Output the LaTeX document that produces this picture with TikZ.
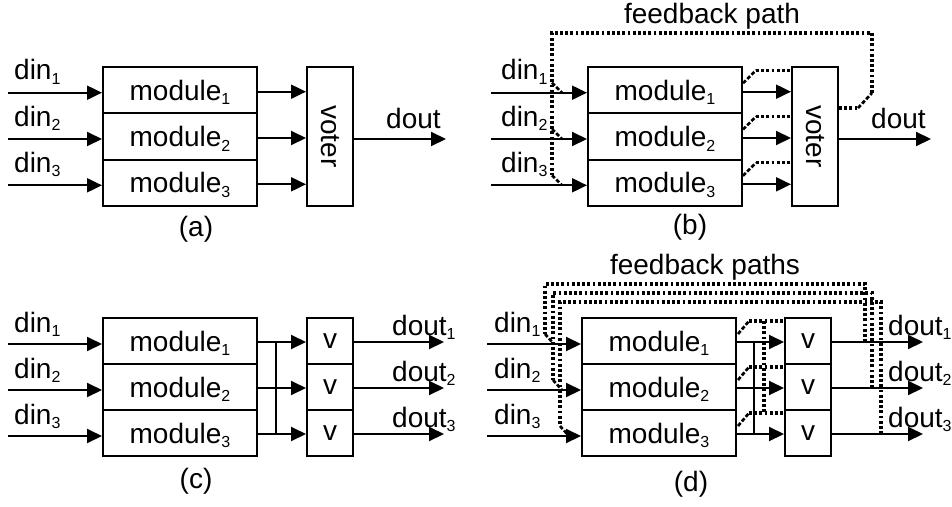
\documentclass[tikz,border=0pt]{standalone}
\usepackage{fontspec}
\setmainfont{Liberation Sans}
\usetikzlibrary{arrows.meta,calc}
% lowered small index, as in module_1
\newcommand\subidx[1]{\raisebox{-4.5pt}{\fontsize{16}{16}\selectfont #1}}
\begin{document}
\begin{tikzpicture}[x=1pt,y=-1pt,
  every node/.style={font=\fontsize{28}{30}\selectfont, inner sep=0pt},
  blk/.style={draw, line width=2pt, minimum width=154pt, minimum height=46.3pt,
              text height=20pt, text depth=0pt},
  vbox/.style={draw, line width=2pt, minimum width=46pt, minimum height=46pt},
  tallbox/.style={draw, line width=2pt, minimum width=46pt, minimum height=139pt},
  arr/.style={line width=2pt, -{Triangle[length=15pt,width=14pt]}},
  wire/.style={line width=2pt},
  dotl/.style={line width=3.1pt, dash pattern=on 2.8pt off 2.4pt},
  dashl/.style={line width=2.7pt, dash pattern=on 4pt off 2pt},
  lbl/.style={anchor=base west},
]
\fill[white] (0,0) rectangle (952,506);
\useasboundingbox (0,0) rectangle (952,506);

% ---------------- (a) TMR with a single voter ----------------
\foreach \i/\y in {1/90.2,2/136.5,3/182.8}
  \node[blk] (am\i) at (180,\y) {module\subidx{\i}};
\node[tallbox] (av) at (330,136.5) {};
\node[rotate=-90] (avt) at (av.center) {voter};
\foreach \i in {1,2,3} {
  \coordinate (ai\i) at ($(am\i.west)+(-94,2.5)$);
  \draw[arr] (ai\i) -- (ai\i -| am\i.west);
  \node[lbl] (adin\i) at ($(ai\i)+(6,-13)$) {din\subidx{\i}};
  \coordinate (ao\i) at ($(am\i.east)+(0,1.5)$);
  \draw[arr] (ao\i) -- (ao\i -| av.west);
}
\coordinate (aout) at ($(av.east)+(0,2.5)$);
\coordinate (aend) at ($(aout)+(92,0)$);
\draw[arr] (aout) -- (aend);
\node[lbl] (adout) at ($(aout)+(32,-11)$) {dout};
\node[anchor=base] (acap) at (196,236) {(a)};

% ---------------- (b) single voter with feedback ----------------
\foreach \i/\y in {1/90.2,2/136.5,3/182.8}
  \node[blk] (bm\i) at (665,\y) {module\subidx{\i}};
\node[tallbox] (bv) at (815,136.5) {};
\node[rotate=-90] (bvt) at (bv.center) {voter};
\foreach \i in {1,2,3} {
  \coordinate (bi\i) at ($(bm\i.west)+(-96,2.5)$);
  \draw[arr] (bi\i) -- (bi\i -| bm\i.west);
  \node[lbl] (bdin\i) at ($(bi\i)+(10,-13)$) {din\subidx{\i}};
  \coordinate (bo\i) at ($(bm\i.east)+(0,1.5)$);
  \draw[arr] (bo\i) -- (bo\i -| bv.west);
  \draw[dashl] ($(bm\i.east)+(0,-7)$) -- ++(13,-13) coordinate (bq\i);
  \draw[dotl] (bq\i) -- (bq\i -| bv.west);
}
\coordinate (bout) at ($(bv.east)+(0,2.5)$);
\coordinate (bend) at ($(bout)+(92,0)$);
\draw[arr] (bout) -- (bend);
\node[lbl] (bdout) at ($(bout)+(32,-11)$) {dout};
% feedback loop from the voter back to the inputs
\coordinate (bfa) at ($(bv.east)+(0,-28.5)$);
\coordinate (bfb) at ($(bfa)+(19,0)$);
\coordinate (bfc) at ($(bfb)+(14,-15)$);
\coordinate (bfe) at (552,33);
\coordinate (bff) at ($(bi3 -| bfe)+(0,-10)$);
\draw[dotl] (bfa) -- (bfb);
\draw[dashl] (bfb) -- (bfc);
\draw[dotl] (bfc) -- (bfc |- bfe) -- (bfe) -- (bff);
\foreach \i in {1,2,3}
  \draw[dashl] ($(bi\i -| bfe)+(0,-10)$) -- ($(bi\i -| bfe)+(10,0)$);
\node[anchor=base] (bfl) at (712,23) {feedback path};
\node[anchor=base] (bcap) at (690,234) {(b)};

% ---------------- (c) triplicated voters ----------------
\foreach \i/\y in {1/341,2/387,3/433} {
  \node[blk, minimum height=46pt] (cm\i) at (180,\y) {module\subidx{\i}};
  \node[vbox] (cv\i) at (330,\y) {v};
}
\foreach \i in {1,2,3} {
  \coordinate (ci\i) at ($(cm\i.west)+(-94,3)$);
  \draw[arr] (ci\i) -- (ci\i -| cm\i.west);
  \node[lbl] (cdin\i) at ($(ci\i)+(6,-12)$) {din\subidx{\i}};
  \coordinate (co\i) at ($(cm\i.east)+(0,1)$);
  \draw[arr] (co\i) -- (co\i -| cv\i.west);
  \coordinate (cd\i) at ($(cv\i.east)+(0,1)$);
  \coordinate (ce\i) at ($(cd\i)+(90,0)$);
  \draw[arr] (cd\i) -- (ce\i);
  \node[lbl] (cdout\i) at ($(cd\i)+(38,-7)$) {dout\subidx{\i}};
}
\coordinate (cb1) at ($(co1)+(18,0)$);
\draw[wire] (cb1) -- (cb1 |- co3);
\node[anchor=base] (ccap) at (196,488) {(c)};

% ---------------- (d) triplicated voters with feedback ----------------
\foreach \i/\y in {1/341,2/387,3/433} {
  \node[blk, minimum height=46pt] (dm\i) at (659,\y) {module\subidx{\i}};
  \node[vbox] (dv\i) at (808,\y) {v};
}
\foreach \i in {1,2,3} {
  \coordinate (di\i) at ($(dm\i.west)+(-94,3)$);
  \draw[arr] (di\i) -- (di\i -| dm\i.west);
  \node[lbl] (ddin\i) at ($(di\i)+(7,-12)$) {din\subidx{\i}};
  \coordinate (do\i) at ($(dm\i.east)+(0,1)$);
  \draw[arr] (do\i) -- (do\i -| dv\i.west);
  \draw[dashl] ($(dm\i.east)+(1,-7)$) -- ++(11,-13) coordinate (dq\i);
  \draw[dotl] (dq\i) -- (dq\i -| dv\i.west);
  \coordinate (dd\i) at ($(dv\i.east)+(0,1)$);
  \coordinate (de\i) at ($(dd\i)+(91,0)$);
  \draw[arr] (dd\i) -- (de\i);
  \node[lbl] (ddout\i) at ($(dd\i)+(56,-7)$) {dout\subidx{\i}};
}
\coordinate (db1) at ($(do1)+(17,0)$);
\draw[wire] (db1) -- (db1 |- do3);
\coordinate (dx1) at ($(dq1)+(15,0)$);
\draw[dotl] (dx1) -- (dx1 |- dq3);
% three feedback paths, one per voter output
\foreach \i/\xr/\yt/\xl in {1/865/284/545,2/872/293/553,3/881/302/560} {
  \coordinate (dtr\i) at (\xr,\yt);
  \coordinate (dtl\i) at (\xl,\yt);
  \coordinate (dbl\i) at ($(di\i -| dtl\i)+(0,-10)$);
  \draw[dotl] (dtr\i |- dd\i) -- (dtr\i) -- (dtl\i) -- (dbl\i);
  \draw[dashl] (dbl\i) -- ($(di\i -| dtl\i)+(9,0)$);
}
\node[anchor=base] (dfl) at (705,274) {feedback paths};
\node[anchor=base] (dcap) at (691,491) {(d)};
\end{tikzpicture}
\end{document}
